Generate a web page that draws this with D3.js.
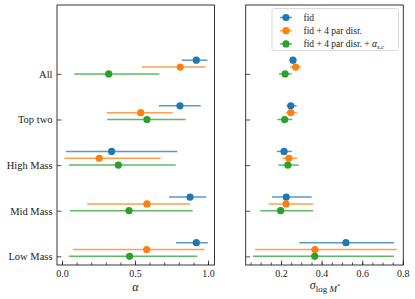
<!DOCTYPE html>
<html><head><meta charset="utf-8">
<script src="https://cdn.jsdelivr.net/npm/d3@7"></script>
<style>body{margin:0;background:#fff}svg{display:block}text{font-family:"Liberation Serif","DejaVu Serif",serif;fill:#222}</style>
</head><body><svg id="c" width="415" height="299"></svg>
<script>
// Categories from bottom (position 0) to top (position 4)
const categories = ["Low Mass", "Mid Mass", "High Mass", "Top two", "All"];
const seriesNames = ["fid", "fid + 4 par disr.", "fid + 4 par disr. + "];
const seriesColors = ["#1f77b4", "#ff7f0e", "#2ca02c"];
const seriesOffsets = [0.3, 0.15, 0];

// alpha: [center, low, high] per category (Low, Mid, High, Top two, All)
const alphaFid   = [[0.92,0.78,0.998],[0.877,0.733,0.988],[0.34,0.027,0.79],[0.808,0.664,0.95],[0.92,0.82,0.995]];
const alphaDisr  = [[0.58,0.075,0.975],[0.582,0.173,0.877],[0.255,0.016,0.676],[0.539,0.306,0.758],[0.81,0.546,0.984]];
const alphaDisrA = [[0.463,0.048,0.927],[0.459,0.055,0.895],[0.386,0.048,0.779],[0.582,0.31,0.847],[0.32,0.084,0.667]];
// sigma log M*: [center, low, high]
const sigFid   = [[0.52,0.29,0.757],[0.226,0.156,0.351],[0.215,0.179,0.253],[0.248,0.228,0.277],[0.259,0.245,0.274]];
const sigDisr  = [[0.367,0.073,0.77],[0.225,0.139,0.358],[0.239,0.206,0.28],[0.248,0.225,0.279],[0.272,0.244,0.298]];
const sigDisrA = [[0.366,0.062,0.757],[0.198,0.098,0.358],[0.234,0.187,0.287],[0.218,0.182,0.256],[0.22,0.19,0.253]];

const alphaTicks = [0.0, 0.5, 1.0];
const sigTicks = [0.2, 0.4, 0.6, 0.8];

const svg = d3.select("#c");
const y = d3.scaleLinear().domain([-0.19, 5.51]).range([265, 5]);
const xL = d3.scaleLinear().domain([-0.0342, 1.0445]).range([57, 214.5]);
const xR = d3.scaleLinear().domain([0.0261, 0.8024]).range([245.7, 403.3]);

function panel(x, data, majors, minorStep, fmt, showLabels) {
  const g = svg.append("g");
  const [x0, x1] = x.range();
  const [yb, yt] = y.range();
  const minors = d3.range(Math.ceil(x.domain()[0]/minorStep - 1e-9), Math.floor(x.domain()[1]/minorStep + 1e-9)+1).map(i => i*minorStep);
  const axB = d3.axisBottom(x).tickValues(minors).tickSize(-2.5).tickFormat("");
  g.append("g").attr("transform", `translate(0,${yb})`).call(axB).call(s => { s.select(".domain").remove(); s.selectAll("line").attr("stroke","#222").attr("stroke-width",0.8); });
  const axM = d3.axisBottom(x).tickValues(majors).tickSize(-4.5).tickPadding(6).tickFormat(fmt);
  g.append("g").attr("transform", `translate(0,${yb})`).call(axM).call(s => {
    s.select(".domain").remove();
    s.selectAll("line").attr("stroke","#222").attr("stroke-width",0.8);
    s.selectAll("text").attr("font-size", 10).attr("font-family", "Liberation Serif").attr("fill","#333").attr("dy","0.71em").attr("y", 5);
  });
  const axY = d3.axisLeft(y).tickValues(d3.range(categories.length)).tickSize(-4.5).tickPadding(5)
    .tickFormat(i => showLabels ? categories[i] : "");
  g.append("g").attr("transform", `translate(${x0},0)`).call(axY).call(s => {
    s.select(".domain").remove();
    s.selectAll("line").attr("stroke","#222").attr("stroke-width",0.8);
    s.selectAll("text").attr("font-size", 10.5).attr("font-family", "Liberation Serif").attr("fill","#222").attr("x", -4.5);
  });
  data.forEach((ser, si) => {
    const sg = g.append("g");
    ser.forEach((d, ci) => {
      const yy = y(ci + seriesOffsets[si]);
      sg.append("line").attr("x1", x(d[1])).attr("x2", x(d[2])).attr("y1", yy).attr("y2", yy)
        .attr("stroke", seriesColors[si]).attr("stroke-width", 1.5).attr("stroke-opacity", 0.75);
      sg.append("circle").attr("cx", x(d[0])).attr("cy", yy).attr("r", 3.6).attr("fill", seriesColors[si]);
    });
  });
  g.append("rect").attr("x", x0).attr("y", yt).attr("width", x1 - x0).attr("height", yb - yt)
    .attr("fill", "none").attr("stroke", "#222").attr("stroke-width", 0.9);
}

panel(xL, [alphaFid, alphaDisr, alphaDisrA], alphaTicks, 0.1, d3.format(".1f"), true);
panel(xR, [sigFid, sigDisr, sigDisrA], sigTicks, 0.05, d3.format(".1f"), false);

svg.append("text").attr("x", 135.5).attr("y", 291).attr("text-anchor", "middle").attr("font-size", 12)
  .attr("font-style", "italic").text("α");
const sl = svg.append("text").attr("x", 325).attr("y", 289).attr("text-anchor", "middle").attr("font-size", 12);
sl.append("tspan").attr("font-style", "italic").text("σ");
sl.append("tspan").attr("font-size", 9).attr("dy", 3).text("log ");
sl.append("tspan").attr("font-size", 9).attr("font-style", "italic").text("M");
sl.append("tspan").attr("font-size", 6.5).attr("dy", -4).text("*");

const lg = svg.append("g");
lg.append("rect").attr("x", 272).attr("y", 8.5).attr("width", 126.5).attr("height", 42).attr("rx", 2)
  .attr("fill", "#fff").attr("fill-opacity", 0.8).attr("stroke", "#d0d0d0").attr("stroke-width", 0.8);
seriesNames.forEach((nm, i) => {
  const yy = 17.5 + i * 13.2;
  lg.append("line").attr("x1", 280).attr("x2", 292).attr("y1", yy).attr("y2", yy)
    .attr("stroke", seriesColors[i]).attr("stroke-width", 1.5).attr("stroke-opacity", 0.75);
  lg.append("circle").attr("cx", 286).attr("cy", yy).attr("r", 3.6).attr("fill", seriesColors[i]);
  const t = lg.append("text").attr("x", 303.5).attr("y", yy + 3.3).attr("font-size", 9.5).attr("fill", "#333").text(nm);
  if (i === 2) {
    t.append("tspan").attr("font-style", "italic").text("α");
    t.append("tspan").attr("font-size", 6.5).attr("font-style", "italic").attr("dy", 2).text("s,c");
  }
});
</script></body></html>
